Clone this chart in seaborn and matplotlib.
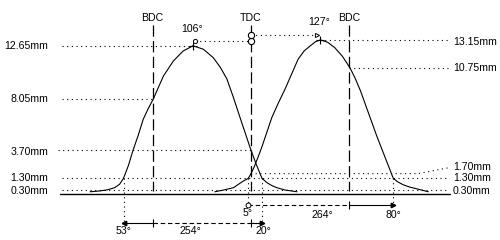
import matplotlib
matplotlib.use("Agg")
import matplotlib.pyplot as plt
import seaborn as sns
import pandas as pd

# ---------------- data (crank degrees relative to TDC, lift in mm) ----------------
exh_angle = [-294, -276, -262, -249, -240, -233, -224, -216, -206, -197, -188, -179, -160, -142,
             -124, -106, -87, -69, -56, -44, -32, -20, -10, 0, 10, 20, 29, 38, 47, 62, 84]
exh_lift = [0.15, 0.22, 0.32, 0.50, 0.80, 1.30, 2.40, 3.64, 5.00, 6.35, 7.25, 8.05, 10.06, 11.34,
            12.20, 12.65, 12.35, 11.63, 10.80, 9.80, 8.20, 6.50, 5.10, 3.70, 2.45, 1.30, 0.93, 0.68,
            0.50, 0.30, 0.15]

int_angle = [-66, -50, -32, -14, -5, 0, 6, 12, 20, 29, 38, 50, 62, 74, 86, 97, 108, 118, 127, 140,
             153, 167, 181, 190, 200, 210, 220, 230, 240, 250, 260, 268, 278, 290, 303, 324]
int_lift = [0.15, 0.30, 0.50, 1.07, 1.30, 1.70, 2.30, 3.00, 4.00, 5.25, 6.50, 7.75, 8.92, 10.20,
            11.49, 12.20, 12.63, 13.00, 13.15, 12.95, 12.49, 11.75, 10.75, 9.90, 8.80, 7.50, 6.20,
            4.90, 3.70, 2.50, 1.30, 1.00, 0.75, 0.55, 0.40, 0.15]

marker_names = ["BDC", "TDC", "BDC"]
marker_angles = [-180, 0, 180]

exh_open, exh_close = -233, 20       # 53° BBDC, 20° ATDC
int_open, int_close = -5, 260        # 5° BTDC, 80° ABDC
exh_peak_angle, int_peak_angle = -106, 127
exh_peak_lift, int_peak_lift = 12.65, 13.15

left_levels = [12.65, 8.05, 3.70, 1.30, 0.30]
right_levels = [13.15, 10.75, 1.70, 1.30, 0.30]
left_labels = ["12.65mm", "8.05mm", "3.70mm", "1.30mm", "0.30mm"]
right_labels = ["13.15mm", "10.75mm", "1.70mm", "1.30mm", "0.30mm"]

exh_peak_label, int_peak_label = "106°", "127°"
row1_labels = ["5°", "264°", "80°"]
row2_labels = ["53°", "254°", "20°"]

# ---------------- pixel <-> data helpers ----------------
PX_DEG = 0.5472
TDC_PX = 251.0
BASE_PX = 193.5
PX_MM = 11.68


def X(px):
    return (px - TDC_PX) / PX_DEG


def Y(py):
    return (BASE_PX - py) / PX_MM


sns.set_theme(style="white")
plt.rcParams["font.family"] = ["Liberation Sans", "DejaVu Sans"]
FS = 7.6

fig = plt.figure(figsize=(5, 2.4), dpi=100)
ax = fig.add_axes([0, 0, 1, 1])
ax.set_xlim(X(0), X(500))
ax.set_ylim(Y(240), Y(0))
ax.axis("off")

LW = 0.8
DOT = dict(color="black", lw=0.8, linestyle=(0, (1, 3.2)))
K = "black"

# curves
exh = pd.DataFrame({"angle": exh_angle, "lift": exh_lift})
inl = pd.DataFrame({"angle": int_angle, "lift": int_lift})
sns.lineplot(data=exh, x="angle", y="lift", sort=False, estimator=None, color=K, lw=LW, ax=ax)
sns.lineplot(data=inl, x="angle", y="lift", sort=False, estimator=None, color=K, lw=LW, ax=ax)

# baseline
ax.plot([X(60), X(450)], [0, 0], color=K, lw=1.0)

# BDC / TDC dashed lines and labels
for name, a in zip(marker_names, marker_angles):
    ax.plot([a, a], [Y(25), Y(191)], color=K, lw=0.9, linestyle=(0, (9, 3.5)))
    ax.text(a, Y(18), name, ha="center", va="center", fontsize=FS, color=K)

# dotted level lines
x_left0, x_right1 = X(62), X(448)
ax.plot([x_left0, exh_peak_angle], [left_levels[0]] * 2, **DOT)
ax.plot([x_left0, -180], [left_levels[1]] * 2, **DOT)
ax.plot([X(58), 0], [left_levels[2]] * 2, **DOT)
ax.plot([x_left0, x_right1], [left_levels[3]] * 2, **DOT)
ax.plot([x_left0, x_right1], [left_levels[4]] * 2, **DOT)
ax.plot([int_peak_angle, x_right1], [right_levels[0]] * 2, **DOT)
ax.plot([180, x_right1], [right_levels[1]] * 2, **DOT)
ax.plot([0, X(418), X(450)], [right_levels[2], right_levels[2], Y(167.5)], **DOT)

# level labels
left_y = [46, 99, 152, 178, 190.5]
for lab, py in zip(left_labels, left_y):
    ax.text(X(48.5), Y(py), lab, ha="right", va="center", fontsize=FS, color=K)
right_y = [42, 68, 167, 178, 190.5]
for lab, py in zip(right_labels, right_y):
    ax.text(X(453), Y(py), lab, ha="left", va="center", fontsize=FS, color=K)

# peak crosses and top dimension lines
ax.plot([exh_peak_angle], [exh_peak_lift], marker="+", ms=6, mew=0.8, color=K)
ax.plot([int_peak_angle], [int_peak_lift], marker="+", ms=6, mew=0.8, color=K)
ye, yi = Y(41), Y(35)
ax.plot([exh_peak_angle + 3, 0], [ye, ye], **DOT)
ax.plot([0, int_peak_angle - 7], [yi, yi], **DOT)
ax.plot([exh_peak_angle + 3], [ye], marker="o", ms=3, mfc="white", mec=K, mew=0.7)
ax.plot([int_peak_angle - 7], [yi], marker=">", ms=3, mfc="white", mec=K, mew=0.7)
ax.plot([0, 0], [ye, yi], marker="o", ms=4.5, mfc="white", mec=K, mew=0.8, lw=0)
ax.text(exh_peak_angle - 2, Y(29), exh_peak_label, ha="center", va="center", fontsize=FS, color=K)
ax.text(int_peak_angle - 2, Y(22), int_peak_label, ha="center", va="center", fontsize=FS, color=K)

# vertical dotted leaders to dimension rows
r1, r2 = Y(205), Y(223)
ax.plot([exh_open, exh_open], [1.3, r2], **DOT)
ax.plot([exh_close, exh_close], [1.3, r2], **DOT)
ax.plot([int_open, int_open], [1.3, r1], **DOT)
ax.plot([int_close, int_close], [1.3, r1], **DOT)

DASH = dict(color=K, lw=0.8, linestyle=(0, (4, 2.5)))
# row 1: intake duration
ax.plot([int_open, 180], [r1, r1], **DASH)
ax.plot([180, int_close], [r1, r1], color=K, lw=0.8)
ax.plot([int_open], [r1], marker="o", ms=3.5, mfc="white", mec=K, mew=0.7)
ax.plot([180], [r1], marker="|", ms=6, mew=0.8, color=K)
ax.plot([int_close], [r1], marker=">", ms=3.2, color=K)
ax.text(X(248), Y(213), row1_labels[0], ha="center", va="center", fontsize=FS, color=K)
ax.text(X(322), Y(214.5), row1_labels[1], ha="center", va="center", fontsize=FS, color=K)
ax.text(int_close, Y(214.5), row1_labels[2], ha="center", va="center", fontsize=FS, color=K)

# row 2: exhaust duration
ax.plot([exh_open, -180], [r2, r2], color=K, lw=0.8)
ax.plot([-180, 0], [r2, r2], **DASH)
ax.plot([0, exh_close], [r2, r2], color=K, lw=0.8)
ax.plot([exh_open], [r2], marker="<", ms=3.2, color=K)
ax.plot([-180, 0], [r2, r2], marker="|", ms=6, mew=0.8, color=K, lw=0)
ax.plot([exh_close], [r2], marker=">", ms=3.2, color=K)
ax.text(exh_open, Y(231), row2_labels[0], ha="center", va="center", fontsize=FS, color=K)
ax.text(X(190), Y(231), row2_labels[1], ha="center", va="center", fontsize=FS, color=K)
ax.text(X(263), Y(231), row2_labels[2], ha="center", va="center", fontsize=FS, color=K)

fig.savefig("out.png", dpi=100, facecolor="white")
